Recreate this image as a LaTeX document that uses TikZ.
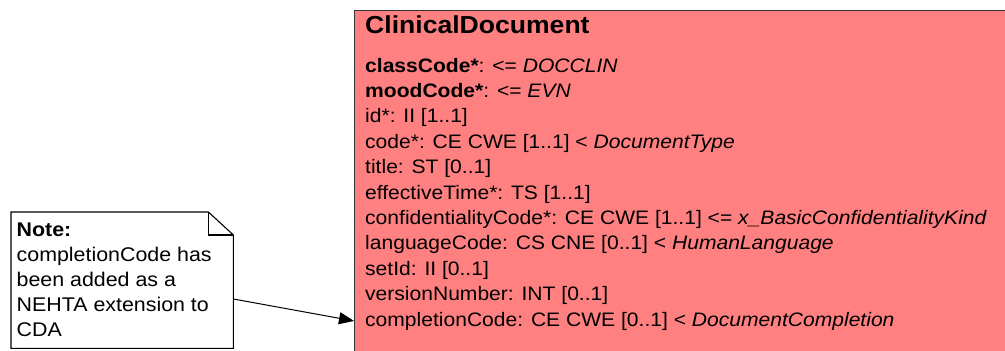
\documentclass[tikz,border=0pt]{standalone}
\usepackage{fontspec}
\setmainfont[FakeStretch=1.08]{Liberation Sans}
\usetikzlibrary{arrows.meta}
\definecolor{classred}{RGB}{255,128,128}
\tikzset{
  classbox/.style={draw=black!80, fill=classred, line width=1pt, minimum width=700pt, minimum height=400pt, inner sep=0pt},
  attr/.style={anchor=base west, inner sep=0pt, font=\fontsize{19.5}{22}\selectfont},
  notebox/.style={minimum width=222pt, minimum height=136pt, inner sep=0pt},
  noteline/.style={anchor=base west, inner sep=0pt, font=\fontsize{19.8}{22}\selectfont},
}
\begin{document}
\begin{tikzpicture}[x=1pt, y=-1pt]
  \useasboundingbox (0,0) rectangle (1005,351);
  \clip (0,0) rectangle (1005,351);
  % class ClinicalDocument
  \node[classbox, anchor=north west] (doc) at (354,10) {};
  \node[attr, font=\fontsize{24.6}{26}\selectfont\bfseries] (title) at (365,33.5) {ClinicalDocument};
  \node[attr] (classcode) at (365,72) {\textbf{classCode*}: <= \textit{DOCCLIN}};
  \node[attr] (moodcode) at (365,97.4) {\textbf{moodCode*}: <= \textit{EVN}};
  \node[attr] (id) at (365,122.8) {id*: II [1..1]};
  \node[attr] (code) at (365,148.2) {code*: CE CWE [1..1] < \textit{DocumentType}};
  \node[attr] (doctitle) at (365,173.6) {title: ST [0..1]};
  \node[attr] (efftime) at (365,199) {effectiveTime*: TS [1..1]};
  \node[attr] (confcode) at (365,224.4) {confidentialityCode*: CE CWE [1..1] <= \textit{x\_BasicConfidentialityKind}};
  \node[attr] (langcode) at (365,249.8) {languageCode: CS CNE [0..1] < \textit{HumanLanguage}};
  \node[attr] (setid) at (365,275.2) {setId: II [0..1]};
  \node[attr] (version) at (365,300.6) {versionNumber: INT [0..1]};
  \node[attr] (compcode) at (365,326) {completionCode: CE CWE [0..1] < \textit{DocumentCompletion}};
  % note
  \node[notebox, anchor=north west] (note) at (11,212) {};
  \draw[fill=white, line width=1.1pt] (note.north west) -- ([xshift=-25pt]note.north east)
    -- ([yshift=-23pt]note.north east) -- (note.south east) -- (note.south west) -- cycle;
  \draw[line width=1.1pt] ([xshift=-25pt]note.north east) |- ([yshift=-23pt]note.north east);
  \node[noteline] (notehead) at (16.5,236) {\textbf{Note:}};
  \node[noteline] (note1) at (16.5,261) {completionCode has};
  \node[noteline] (note2) at (16.5,286) {been added as a};
  \node[noteline] (note3) at (16.5,311) {NEHTA extension to};
  \node[noteline] (note4) at (16.5,336) {CDA};
  % link
  \draw[-{Triangle[length=15pt, width=12pt]}, line width=1pt] (note.east |- 0,299) -- (doc.west |- compcode.west);
\end{tikzpicture}
\end{document}
